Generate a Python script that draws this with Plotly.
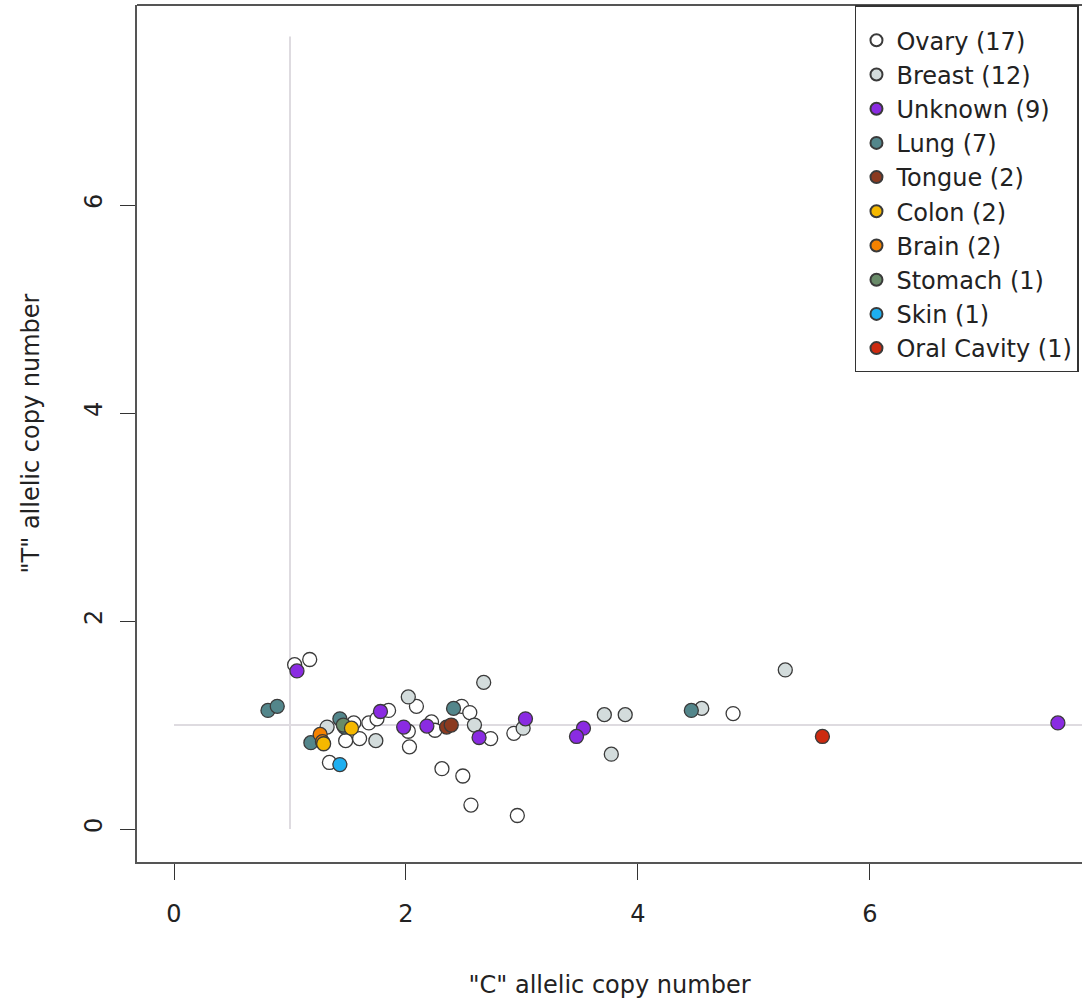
import plotly.graph_objects as go

# Allelic copy number per sample, grouped by tissue of origin
categories = ["Ovary (17)", "Breast (12)", "Unknown (9)", "Lung (7)", "Tongue (2)",
              "Colon (2)", "Brain (2)", "Stomach (1)", "Skin (1)", "Oral Cavity (1)"]

fill_colors = ["#ffffff", "#d3dcdc", "#8a2be2", "#53868b", "#8b3a20",
               "#f5b800", "#f58200", "#698b69", "#1eaff0", "#cd2a10"]

ovary_c = [1.17, 1.04, 1.55, 1.48, 1.60, 1.68, 1.75, 1.85, 2.09, 2.02, 2.03, 2.22,
           2.25, 1.34, 2.48, 2.55, 2.73, 2.31, 2.49, 2.56, 2.96, 2.93, 4.82]
ovary_t = [1.63, 1.58, 1.02, 0.85, 0.87, 1.02, 1.06, 1.14, 1.18, 0.94, 0.79, 1.03,
           0.95, 0.64, 1.18, 1.12, 0.87, 0.58, 0.51, 0.23, 0.13, 0.92, 1.11]

breast_c = [1.32, 1.74, 2.02, 2.67, 2.59, 3.01, 3.71, 3.89, 3.77, 4.55, 5.27]
breast_t = [0.98, 0.85, 1.27, 1.41, 1.00, 0.97, 1.10, 1.10, 0.72, 1.16, 1.53]

unknown_c = [1.06, 1.78, 1.98, 2.18, 2.63, 3.03, 3.53, 3.47, 7.62]
unknown_t = [1.52, 1.13, 0.98, 0.99, 0.88, 1.06, 0.97, 0.89, 1.02]

lung_c = [0.81, 0.89, 1.43, 1.47, 2.41, 4.46, 1.18]
lung_t = [1.14, 1.18, 1.06, 0.98, 1.16, 1.14, 0.83]

tongue_c = [2.35, 2.39]
tongue_t = [0.98, 1.00]

colon_c = [1.53, 1.29]
colon_t = [0.97, 0.82]

brain_c = [1.26, 1.28]
brain_t = [0.91, 0.84]

stomach_c = [1.46]
stomach_t = [1.00]

skin_c = [1.43]
skin_t = [0.62]

oral_c = [5.59]
oral_t = [0.89]

series_c = [ovary_c, breast_c, unknown_c, lung_c, tongue_c,
            colon_c, brain_c, stomach_c, skin_c, oral_c]
series_t = [ovary_t, breast_t, unknown_t, lung_t, tongue_t,
            colon_t, brain_t, stomach_t, skin_t, oral_t]

# order in which the groups are painted (later ones sit on top)
draw_order = [0, 1, 2, 3, 7, 4, 6, 5, 8, 9]

x_ticks = [0, 2, 4, 6]
y_ticks = [0, 2, 4, 6]

# reference lines at one copy of each allele
ref_line_end = 7.62

FONT = "DejaVu Sans, Liberation Sans, Arial, sans-serif"
TEXT = "#222222"
FS = 24

fig = go.Figure()

fig.add_trace(go.Scatter(x=[1, 1], y=[0, ref_line_end], mode="lines",
                         line=dict(color="#dedbe0", width=2),
                         showlegend=False, hoverinfo="skip"))
fig.add_trace(go.Scatter(x=[0, 8.5], y=[1, 1], mode="lines",
                         line=dict(color="#dedbe0", width=2),
                         showlegend=False, hoverinfo="skip"))

for i in draw_order:
    fig.add_trace(go.Scatter(
        x=series_c[i], y=series_t[i], mode="markers", name=categories[i],
        legendrank=i + 1,
        marker=dict(size=14, color=fill_colors[i], line=dict(color="#3a3a3a", width=1.3)),
    ))

fig.update_layout(
    width=1082, height=999,
    margin=dict(l=137, r=0, t=5, b=137),
    paper_bgcolor="white", plot_bgcolor="white",
    font=dict(family=FONT, size=FS, color=TEXT),
    showlegend=True,
    legend=dict(
        x=0.9968, y=1, xanchor="right", yanchor="top",
        bgcolor="white", bordercolor="#333333", borderwidth=1.5,
        font=dict(family=FONT, size=FS, color=TEXT),
        title=dict(text=" ", font=dict(size=9)),
        itemsizing="constant",
        tracegroupgap=0,
    ),
    shapes=[
        dict(type="line", xref="paper", yref="paper", x0=0, x1=1, y0=1, y1=1,
             line=dict(color="#555555", width=2)),
    ],
)

fig.update_xaxes(
    range=[-0.319, 7.828], tickvals=x_ticks, ticktext=[str(v) for v in x_ticks],
    showgrid=False, zeroline=False,
    showline=True, linecolor="#555555", linewidth=2,
    ticks="outside", ticklen=16, tickwidth=1.3, tickcolor="#333333",
    ticklabelstandoff=13,
    title=dict(text='"C" allelic copy number', standoff=49,
               font=dict(family=FONT, size=FS, color=TEXT)),
)
fig.update_yaxes(
    range=[-0.317, 7.923], tickvals=y_ticks, ticktext=[str(v) for v in y_ticks],
    showgrid=False, zeroline=False,
    showline=True, linecolor="#555555", linewidth=2,
    ticks="outside", ticklen=15, tickwidth=1.3, tickcolor="#333333",
    tickangle=-90, ticklabelstandoff=8,
    title=dict(text='"T" allelic copy number', standoff=34,
               font=dict(family=FONT, size=FS, color=TEXT)),
)

fig.write_html("out.html")
